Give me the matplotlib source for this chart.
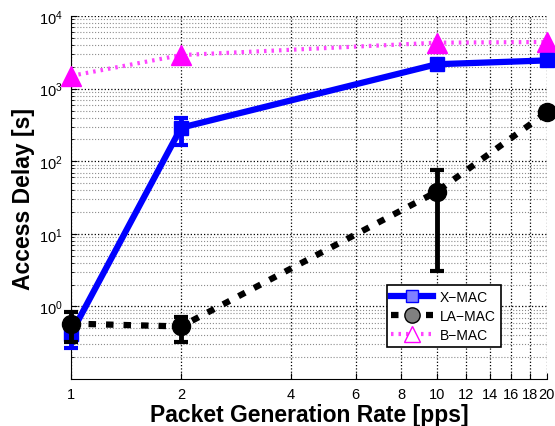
import numpy as np
import matplotlib
matplotlib.use('Agg')
import matplotlib.pyplot as plt
from matplotlib.lines import Line2D
from matplotlib.ticker import FixedLocator, NullLocator, LogLocator, NullFormatter

# data
rate = [1, 2, 10, 20]
xtick_vals = [1, 2, 4, 6, 8, 10, 12, 14, 16, 18, 20]

xmac = [0.42, 290, 2170, 2450]
xmac_lo = [0.27, 170, 2050, 2350]
xmac_hi = [0.60, 400, 2300, 2550]

lamac = [0.58, 0.53, 38, 470]
lamac_lo = [0.32, 0.32, 3.1, 445]
lamac_hi = [0.85, 0.72, 75, 495]

bmac = [1500, 2900, 4300, 4400]

plt.rcParams['font.family'] = ['Liberation Sans', 'DejaVu Sans']

fig = plt.figure(figsize=(5.55, 4.27), dpi=100)
ax = fig.add_axes([0.128, 0.110, 0.857, 0.850])

ax.set_xscale('log')
ax.set_yscale('log')

pink = '#ff44ff'
ax.plot(rate, bmac, color=pink, linestyle=(0, (0.6, 1.2)), linewidth=3,
        marker='^', markersize=15, markerfacecolor='#ff00ff', markeredgecolor='#ff00ff',
        clip_on=False, zorder=3)

err_x = [np.array(xmac) - np.array(xmac_lo), np.array(xmac_hi) - np.array(xmac)]
ax.errorbar(rate, xmac, yerr=err_x, color='#0000ff', linewidth=4.5, elinewidth=3.5,
            capsize=5, capthick=3, marker='s', markersize=10,
            clip_on=False, zorder=4)

err_l = [np.array(lamac) - np.array(lamac_lo), np.array(lamac_hi) - np.array(lamac)]
ax.errorbar(rate, lamac, yerr=err_l, color='black', linewidth=4.5, linestyle=(0, (1.2, 1.6)),
            elinewidth=3.5, capsize=5, capthick=3, marker='o', markersize=13,
            clip_on=False, zorder=5)

ax.set_xlim(1, 20)
ax.set_ylim(0.1, 1e4)

ax.xaxis.set_major_locator(FixedLocator(xtick_vals))
ax.xaxis.set_minor_locator(NullLocator())
ax.set_xticklabels([str(v) for v in xtick_vals])
ax.yaxis.set_major_locator(FixedLocator([1, 10, 100, 1000, 10000]))
ax.yaxis.set_minor_locator(LogLocator(base=10, subs=np.arange(2, 10)))
ax.yaxis.set_minor_formatter(NullFormatter())

ax.grid(which='major', linestyle=':', color='black', linewidth=0.9)
ax.yaxis.grid(which='minor', linestyle=':', color='0.55', linewidth=0.8)
ax.set_axisbelow(True)

ax.spines['top'].set_visible(False)
ax.spines['right'].set_visible(False)
ax.tick_params(which='both', direction='in', labelsize=10.5, pad=6)
ax.tick_params(which='major', length=4)
ax.tick_params(which='minor', length=2)

ax.set_xlabel('Packet Generation Rate [pps]', fontsize=16.5, fontweight='bold', labelpad=1)
ax.set_ylabel('Access Delay [s]', fontsize=16.5, fontweight='bold', labelpad=3)

handles = [
    Line2D([], [], color='#0000ff', linewidth=4.5, marker='s', markersize=9,
           markerfacecolor='#8080ff', markeredgecolor='#0000ff'),
    Line2D([], [], color='black', linewidth=4.5, linestyle=(0, (1.2, 1.6)), marker='o',
           markersize=11, markerfacecolor='0.5', markeredgecolor='black'),
    Line2D([], [], color=pink, linewidth=3, linestyle=(0, (0.6, 1.2)), marker='^',
           markersize=12, markerfacecolor='white', markeredgecolor='#ff00ff'),
]
leg = ax.legend(handles, ['X\u2212MAC', 'LA\u2212MAC', 'B\u2212MAC'], loc='lower right',
                bbox_to_anchor=(0.918, 0.07), fontsize=10, fancybox=False,
                edgecolor='black', framealpha=1, handlelength=3.0, borderpad=0.35,
                labelspacing=0.35, handletextpad=0.5)
leg.get_frame().set_linewidth(1.2)

fig.savefig('out.png', dpi=100)
